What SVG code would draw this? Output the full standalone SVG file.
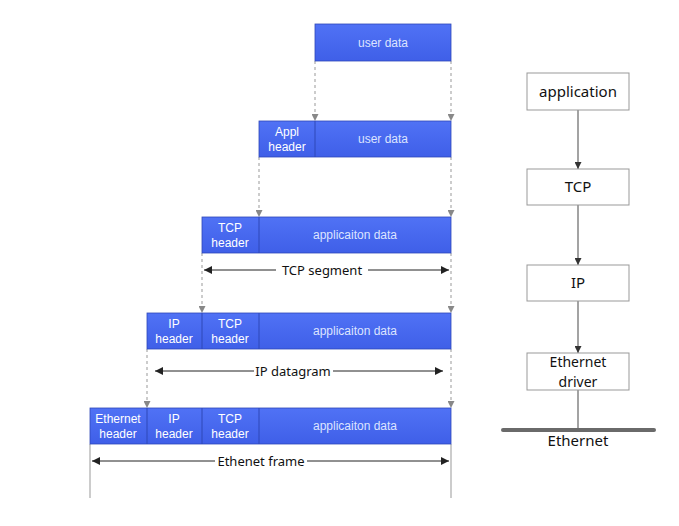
<svg xmlns="http://www.w3.org/2000/svg" width="679" height="526" viewBox="0 0 679 526">
<defs>
<linearGradient id="g" x1="0" y1="0" x2="0" y2="1">
<stop offset="0" stop-color="#5072f5"/>
<stop offset="1" stop-color="#3f5fe8"/>
</linearGradient>
<marker id="ag" viewBox="0 0 8 8" refX="8" refY="4" markerWidth="7" markerHeight="7" markerUnits="userSpaceOnUse" orient="auto"><path d="M0,0 L8,4 L0,8 z" fill="#888"/></marker>
<marker id="ab" viewBox="0 0 8 8" refX="8" refY="4" markerWidth="8" markerHeight="8" markerUnits="userSpaceOnUse" orient="auto-start-reverse"><path d="M0,0 L8,4 L0,8 z" fill="#222"/></marker>
<marker id="ad" viewBox="0 0 8 8" refX="8" refY="4" markerWidth="7" markerHeight="7" markerUnits="userSpaceOnUse" orient="auto"><path d="M0,0 L8,4 L0,8 z" fill="#333"/></marker>
</defs>
<style>
.blk{fill:url(#g);stroke:#2f48b8;stroke-width:0.8}
.sep{stroke:#2f48b8;stroke-width:1}
.bt{font-family:"Liberation Sans",Arial,sans-serif;font-size:12px;fill:#ffffff;text-anchor:middle}
.dt{font-family:"Liberation Sans",Arial,sans-serif;font-size:12px;fill:#dde4ff;text-anchor:middle}
.dash{stroke:#999;stroke-width:1;stroke-dasharray:3,3;fill:none}
.dim{stroke:#222;stroke-width:1;fill:none}
.lab{font-family:"Noto Sans","Open Sans",sans-serif;font-size:13px;fill:#111;text-anchor:middle}
.box{fill:#fff;stroke:#999;stroke-width:1}
.rt{font-family:"Noto Sans","Open Sans",sans-serif;font-size:15px;fill:#111;text-anchor:middle}
.rt2{font-family:"Noto Sans","Open Sans",sans-serif;font-size:14px;fill:#111;text-anchor:middle}
.ln{stroke:#666;stroke-width:1.2;fill:none}
</style>

<g id="connectors">
<line class="dash" x1="315" y1="61" x2="315" y2="121" marker-end="url(#ag)"/>
<line class="dash" x1="451" y1="61" x2="451" y2="121" marker-end="url(#ag)"/>
<line class="dash" x1="259" y1="157" x2="259" y2="217" marker-end="url(#ag)"/>
<line class="dash" x1="451" y1="157" x2="451" y2="217" marker-end="url(#ag)"/>
<line class="dash" x1="202" y1="253" x2="202" y2="313" marker-end="url(#ag)"/>
<line class="dash" x1="451" y1="253" x2="451" y2="313" marker-end="url(#ag)"/>
<line class="dash" x1="147" y1="349" x2="147" y2="408" marker-end="url(#ag)"/>
<line class="dash" x1="451" y1="349" x2="451" y2="408" marker-end="url(#ag)"/>
<line x1="90" y1="444" x2="90" y2="498" stroke="#999" stroke-width="1"/>
<line x1="451" y1="444" x2="451" y2="498" stroke="#999" stroke-width="1"/>
<line class="dim" x1="204" y1="270" x2="276" y2="270" marker-start="url(#ab)"/>
<line class="dim" x1="368" y1="270" x2="449" y2="270" marker-end="url(#ab)"/>
<line class="dim" x1="155" y1="371" x2="254" y2="371" marker-start="url(#ab)"/>
<line class="dim" x1="333" y1="371" x2="443" y2="371" marker-end="url(#ab)"/>
<line class="dim" x1="92" y1="461" x2="215" y2="461" marker-start="url(#ab)"/>
<line class="dim" x1="307" y1="461" x2="449" y2="461" marker-end="url(#ab)"/>
<line class="ln" x1="578" y1="110" x2="578" y2="169" marker-end="url(#ad)"/>
<line class="ln" x1="578" y1="205" x2="578" y2="265" marker-end="url(#ad)"/>
<line class="ln" x1="578" y1="301" x2="578" y2="353" marker-end="url(#ad)"/>
<line class="ln" x1="578" y1="390" x2="578" y2="430"/>
</g>

<g id="labels">
<text class="lab" x="322" y="275">TCP segment</text>
<text class="lab" x="293" y="376">IP datagram</text>
<text class="lab" x="261" y="466">Ethenet frame</text>
</g>

<g id="row1">
<rect class="blk" x="315" y="24" width="136" height="37"/>
<text class="dt" x="383" y="47">user data</text>
</g>

<g id="row2">
<rect class="blk" x="259" y="121" width="192" height="36"/>
<line class="sep" x1="315" y1="121" x2="315" y2="157"/>
<text class="bt" x="287" y="136">Appl</text>
<text class="bt" x="287" y="151">header</text>
<text class="dt" x="383" y="143">user data</text>
</g>

<g id="row3">
<rect class="blk" x="202" y="217" width="249" height="36"/>
<line class="sep" x1="259" y1="217" x2="259" y2="253"/>
<text class="bt" x="230" y="232">TCP</text>
<text class="bt" x="230" y="247">header</text>
<text class="dt" x="355" y="239">applicaiton data</text>
</g>

<g id="row4">
<rect class="blk" x="147" y="313" width="304" height="36"/>
<line class="sep" x1="202" y1="313" x2="202" y2="349"/>
<line class="sep" x1="259" y1="313" x2="259" y2="349"/>
<text class="bt" x="174" y="328">IP</text>
<text class="bt" x="174" y="343">header</text>
<text class="bt" x="230" y="328">TCP</text>
<text class="bt" x="230" y="343">header</text>
<text class="dt" x="355" y="335">applicaiton data</text>
</g>

<g id="row5">
<rect class="blk" x="90" y="408" width="361" height="36"/>
<line class="sep" x1="147" y1="408" x2="147" y2="444"/>
<line class="sep" x1="202" y1="408" x2="202" y2="444"/>
<line class="sep" x1="259" y1="408" x2="259" y2="444"/>
<text class="bt" x="118" y="423">Ethernet</text>
<text class="bt" x="118" y="438">header</text>
<text class="bt" x="174" y="423">IP</text>
<text class="bt" x="174" y="438">header</text>
<text class="bt" x="230" y="423">TCP</text>
<text class="bt" x="230" y="438">header</text>
<text class="dt" x="355" y="430">applicaiton data</text>
</g>

<g id="application">
<rect class="box" x="527" y="73" width="102" height="37"/>
<text class="rt" x="578" y="97">application</text>
</g>
<g id="tcp">
<rect class="box" x="527" y="169" width="102" height="36"/>
<text class="rt" x="578" y="192">TCP</text>
</g>
<g id="ip">
<rect class="box" x="527" y="265" width="102" height="36"/>
<text class="rt" x="578" y="288">IP</text>
</g>
<g id="ethernet-driver">
<rect class="box" x="527" y="353" width="102" height="37"/>
<text class="rt2" x="578" y="367">Ethernet</text>
<text class="rt2" x="578" y="386.5">driver</text>
</g>
<g id="ethernet">
<line x1="503" y1="430" x2="654" y2="430" stroke="#6a6a6a" stroke-width="4" stroke-linecap="round"/>
<text class="rt" x="578" y="446">Ethernet</text>
</g>
</svg>
